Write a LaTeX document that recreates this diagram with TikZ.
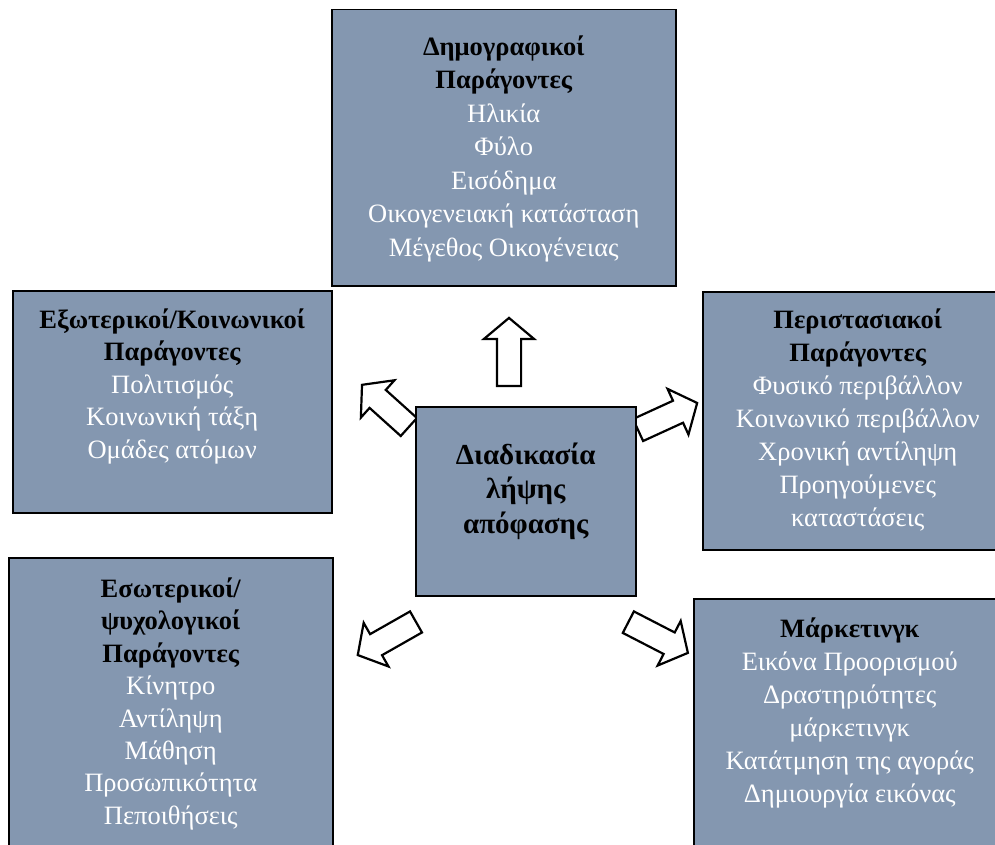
\documentclass[tikz,border=0pt]{standalone}
\usepackage{fontspec}
\setmainfont{Liberation Serif}
\usetikzlibrary{shapes.arrows, positioning}
\definecolor{boxblue}{RGB}{132,151,176}

\tikzset{
  factor/.style={draw=black, line width=1.5pt, fill=boxblue, inner sep=0pt,
    anchor=north west, font=\fontsize{26.5}{33}\selectfont},
  blockarrow/.style={single arrow, draw=black, line width=2.2pt, fill=white,
    single arrow head extend=13pt, single arrow tip angle=100,
    inner xsep=0pt, inner ysep=11pt}
}
% box text: width, height, top gap, lines
\newcommand{\boxtext}[4]{\begin{minipage}[t][#2][t]{#1}\centering\vspace*{#3}#4\end{minipage}}
\newcommand{\itemsw}{\mdseries\color{white}}

\begin{document}
\begin{tikzpicture}[x=1pt, y=-1pt]
        \useasboundingbox (0,0) rectangle (995,845);
        \clip (0,0) rectangle (995,845);

        % Arrows
        \node[blockarrow, minimum height=68pt, rotate=90] (arrDemo) at (509,357) {};
        \node[blockarrow, minimum height=63pt, rotate=138] (arrExt) at (389.2,409.3) {};
        \node[blockarrow, minimum height=65pt, rotate=24.6] (arrPeri) at (663,418.6) {};
        \node[blockarrow, minimum height=67pt, rotate=209.6] (arrInt) at (391.3,636) {};
        \node[blockarrow, minimum height=67pt, rotate=-27.3] (arrMark) at (653.6,635.2) {};

        % Factor boxes
        \node[factor, font=\fontsize{26.5}{33.5}\selectfont] (demo) at (331,9) {\boxtext{344pt}{276pt}{26pt}{%
          \bfseries Δημογραφικοί\\Παράγοντες\\ \itemsw Ηλικία\\Φύλο\\Εισόδημα\\Οικογενειακή κατάσταση\\Μέγεθος Οικογένειας}};
        \node[factor, font=\fontsize{26.5}{32.5}\selectfont] (ext) at (12,290) {\boxtext{319pt}{222pt}{18pt}{%
          \bfseries Εξωτερικοί/Κοινωνικοί\\Παράγοντες\\ \itemsw Πολιτισμός\\Κοινωνική τάξη\\Ομάδες ατόμων}};
        \node[factor] (peri) at (702,291) {\boxtext{310pt}{258pt}{17pt}{%
          \bfseries Περιστασιακοί\\Παράγοντες\\ \itemsw Φυσικό περιβάλλον\\Κοινωνικό περιβάλλον\\Χρονική αντίληψη\\Προηγούμενες\\καταστάσεις}};
        \node[factor, font=\fontsize{26.5}{32.4}\selectfont] (int) at (8,557) {\boxtext{324pt}{320pt}{20pt}{%
          \bfseries Εσωτερικοί/\\ψυχολογικοί\\Παράγοντες\\ \itemsw Κίνητρο\\Αντίληψη\\Μάθηση\\Προσωπικότητα\\Πεποιθήσεις}};
        \node[factor] (mark) at (693,598) {\boxtext{312pt}{280pt}{19pt}{%
          \bfseries Μάρκετινγκ\\ \itemsw Εικόνα Προορισμού\\Δραστηριότητες\\μάρκετινγκ\\Κατάτμηση της αγοράς\\Δημιουργία εικόνας}};

        % Centre
        \node[factor, font=\fontsize{29}{34.5}\selectfont\bfseries] (cent) at (415,406)
          {\boxtext{220pt}{189pt}{36pt}{Διαδικασία\\λήψης\\απόφασης}};
    \end{tikzpicture}
\end{document}
